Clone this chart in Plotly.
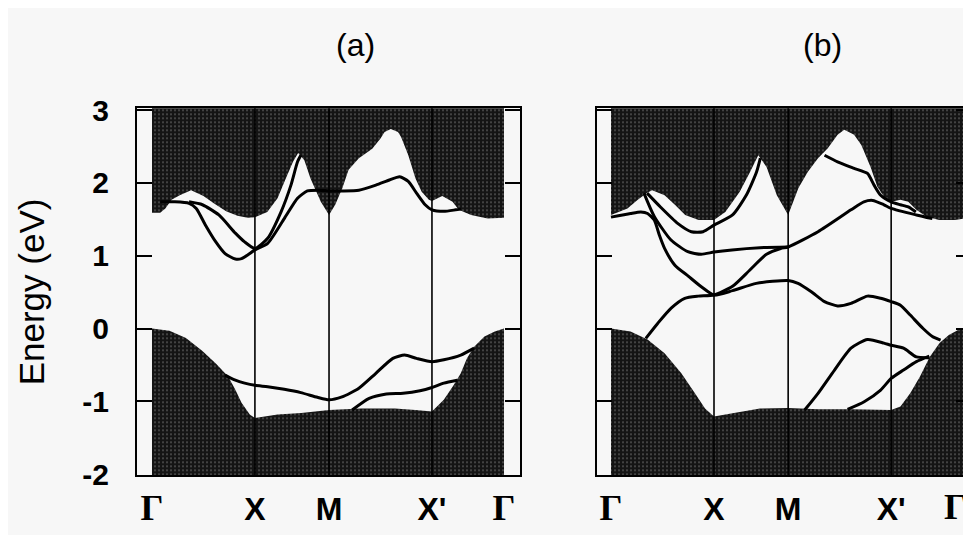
import plotly.graph_objects as go

# ---------------- data ----------------
K_POS = [0.0, 1.0, 1.72, 2.72, 3.42]
K_LABELS = ['Γ', 'X', 'M', "X'", 'Γ']
Y_TICKS = [-2, -1, 0, 1, 2, 3]
Y_TICK_TEXT = ['-2', '-1', '0', '1', '2', '3']
PANEL_TITLES = ['(a)', '(b)']
Y_TITLE = 'Energy (eV)'

# panel (a): lower edge of projected bulk conduction bands
a_cb_x = [0.00, 0.08, 0.13, 0.19, 0.27, 0.38, 0.50, 0.60, 0.72, 0.83, 0.93, 1.00, 1.12, 1.22, 1.30, 1.37,
          1.42, 1.48, 1.54, 1.64, 1.72, 1.78, 1.85, 1.91, 2.01, 2.14, 2.22, 2.26, 2.32, 2.39, 2.42, 2.49,
          2.56, 2.62, 2.69, 2.72, 2.82, 2.92, 2.98, 3.10, 3.26, 3.42]
a_cb_y = [1.59, 1.59, 1.65, 1.77, 1.83, 1.90, 1.82, 1.72, 1.61, 1.55, 1.52, 1.53, 1.60, 1.79, 2.06, 2.29,
          2.41, 2.31, 2.06, 1.74, 1.56, 1.70, 1.93, 2.18, 2.34, 2.47, 2.61, 2.70, 2.74, 2.70, 2.63, 2.38,
          2.06, 1.88, 1.77, 1.75, 1.82, 1.74, 1.63, 1.56, 1.51, 1.52]
# panel (a): upper edge of projected bulk valence bands
a_vb_x = [0.00, 0.17, 0.33, 0.49, 0.62, 0.74, 0.81, 0.87, 0.95, 1.00, 1.22, 1.45, 1.72, 2.03, 2.36, 2.56,
          2.72, 2.835, 2.93, 3.00, 3.06, 3.13, 3.23, 3.33, 3.42]
a_vb_y = [0.00, -0.03, -0.13, -0.31, -0.48, -0.66, -0.84, -1.02, -1.18, -1.23, -1.18, -1.16, -1.12, -1.10,
          -1.10, -1.12, -1.14, -0.98, -0.78, -0.615, -0.41, -0.25, -0.11, -0.04, 0.00]
# panel (a): surface-state bands
a_s1_x = [0.08, 0.22, 0.36, 0.43, 0.52, 0.62, 0.71, 0.81, 0.87, 0.93, 1.00, 1.124, 1.285, 1.414, 1.51,
          1.617, 1.72, 1.846, 2.01, 2.175, 2.307, 2.406, 2.49, 2.57, 2.654, 2.72, 2.835, 2.95, 3.0]
a_s1_y = [1.74, 1.74, 1.72, 1.65, 1.42, 1.19, 1.03, 0.955, 0.96, 1.01, 1.08, 1.17, 1.51, 1.79, 1.89,
          1.90, 1.89, 1.89, 1.90, 1.97, 2.04, 2.085, 2.02, 1.86, 1.70, 1.63, 1.61, 1.63, 1.64]
a_s2_x = [0.36, 0.49, 0.65, 0.81, 0.90, 1.00, 1.124, 1.253, 1.35, 1.414, 1.446]
a_s2_y = [1.74, 1.70, 1.56, 1.31, 1.19, 1.10, 1.24, 1.60, 1.97, 2.29, 2.38]
a_s3_x = [0.71, 0.81, 0.90, 1.00, 1.124, 1.285, 1.446, 1.607, 1.72, 1.846, 2.01, 2.175, 2.34, 2.455,
          2.57, 2.72, 2.835, 3.0, 3.13]
a_s3_y = [-0.64, -0.71, -0.75, -0.78, -0.80, -0.835, -0.88, -0.945, -0.98, -0.94, -0.82, -0.615, -0.41,
          -0.365, -0.41, -0.455, -0.43, -0.365, -0.27]
a_s4_x = [1.945, 2.11, 2.277, 2.44, 2.604, 2.72, 2.835, 2.966]
a_s4_y = [-1.12, -0.96, -0.90, -0.89, -0.855, -0.81, -0.75, -0.71]

# panel (b)
b_cb_x = [0.00, 0.16, 0.26, 0.355, 0.40, 0.52, 0.62, 0.72, 0.85, 1.00, 1.11, 1.25, 1.35, 1.43, 1.51, 1.61,
          1.72, 1.82, 1.91, 2.01, 2.105, 2.20, 2.265, 2.36, 2.43, 2.52, 2.585, 2.65, 2.72, 2.81, 2.886,
          2.965, 3.06, 3.185, 3.34, 3.42]
b_cb_y = [1.56, 1.65, 1.77, 1.87, 1.90, 1.83, 1.70, 1.56, 1.49, 1.49, 1.60, 1.88, 2.15, 2.38, 2.22, 1.83,
          1.56, 1.93, 2.15, 2.34, 2.475, 2.66, 2.73, 2.66, 2.52, 2.22, 1.95, 1.81, 1.74, 1.77, 1.74,
          1.63, 1.54, 1.49, 1.49, 1.51]
b_vb_x = [0.00, 0.19, 0.355, 0.52, 0.683, 0.815, 0.913, 1.00, 1.18, 1.446, 1.72, 2.01, 2.33, 2.72, 2.81,
          2.905, 3.00, 3.094, 3.19, 3.28, 3.37, 3.42]
b_vb_y = [0.00, -0.04, -0.15, -0.34, -0.615, -0.89, -1.10, -1.21, -1.165, -1.10, -1.09, -1.11, -1.11,
          -1.12, -1.07, -0.89, -0.66, -0.39, -0.20, -0.09, -0.02, 0.00]
b_s1_x = [0.0, 0.19, 0.29, 0.355, 0.42, 0.47, 0.52, 0.62, 0.75, 0.88, 1.0, 1.18, 1.41, 1.72, 1.816, 1.945,
          2.073, 2.20, 2.33, 2.49, 2.618, 2.72, 2.81, 2.905, 3.03, 3.12, 3.20]
b_s1_y = [1.53, 1.58, 1.60, 1.58, 1.49, 1.28, 1.10, 0.87, 0.72, 0.57, 0.46, 0.52, 0.62, 0.66, 0.62, 0.505,
          0.37, 0.31, 0.345, 0.445, 0.415, 0.37, 0.32, 0.185, 0.0, -0.11, -0.16]
b_s2_x = [0.338, 0.453, 0.584, 0.716, 0.847, 1.0, 1.18, 1.346, 1.51, 1.647, 1.72, 2.01, 2.33, 2.455, 2.54,
          2.65, 2.72, 2.965, 3.12]
b_s2_y = [-0.135, 0.07, 0.28, 0.415, 0.445, 0.46, 0.58, 0.80, 1.02, 1.10, 1.12, 1.33, 1.63, 1.74, 1.76,
          1.70, 1.65, 1.56, 1.51]
b_s3_x = [0.32, 0.42, 0.58, 0.746, 0.876, 1.0, 1.175, 1.446, 1.72]
b_s3_y = [1.86, 1.54, 1.22, 1.055, 1.02, 1.05, 1.08, 1.11, 1.12]
b_s4_x = [0.35, 0.48, 0.647, 0.78, 0.894, 1.0, 1.18, 1.313, 1.413, 1.45]
b_s4_y = [1.86, 1.67, 1.445, 1.33, 1.33, 1.42, 1.56, 1.83, 2.15, 2.34]
b_s5_x = [2.073, 2.20, 2.36, 2.49, 2.554, 2.618, 2.72, 2.81, 2.886, 2.96]
b_s5_y = [2.38, 2.29, 2.20, 2.13, 1.97, 1.83, 1.74, 1.70, 1.67, 1.60]
b_s6_x = [1.88, 2.01, 2.17, 2.33, 2.49, 2.65, 2.72, 2.84, 2.965, 3.09]
b_s6_y = [-1.12, -0.89, -0.57, -0.27, -0.15, -0.20, -0.23, -0.27, -0.39, -0.40]
b_s7_x = [2.297, 2.458, 2.618, 2.72, 2.84, 2.965, 3.09]
b_s7_y = [-1.11, -1.005, -0.845, -0.685, -0.57, -0.455, -0.38]

# ---------------- styling ----------------
Y_RANGE = [-2.012, 3.025]
FILL_TOP, FILL_BOT = 3.3, -2.3
BG = '#f7f7f7'
SANS = 'Liberation Sans, Arial, sans-serif'
DARK = dict(shape='.', bgcolor='#141414', fgcolor='#8f8f8f', size=4, solidity=0.2)

# page body has an 8px margin: lay the figure out in page pixels minus that offset
OFF = 8
W, H = 971 - OFF, 535 - OFF


def px_x(p):
    return (p - OFF) / W


def px_y(p):
    return (H - (p - OFF)) / H


panels = [
    dict(cb=(a_cb_x, a_cb_y), vb=(a_vb_x, a_vb_y),
         lines=[(a_s1_x, a_s1_y), (a_s2_x, a_s2_y), (a_s3_x, a_s3_y), (a_s4_x, a_s4_y)],
         xa='x', ya='y'),
    dict(cb=(b_cb_x, b_cb_y), vb=(b_vb_x, b_vb_y),
         lines=[(b_s1_x, b_s1_y), (b_s2_x, b_s2_y), (b_s3_x, b_s3_y), (b_s4_x, b_s4_y),
                (b_s5_x, b_s5_y), (b_s6_x, b_s6_y), (b_s7_x, b_s7_y)],
         xa='x2', ya='y2'),
]

fig = go.Figure()
for p in panels:
    cx, cy = p['cb']
    vx, vy = p['vb']
    fig.add_trace(go.Scatter(x=list(cx) + [cx[-1], cx[0]], y=list(cy) + [FILL_TOP, FILL_TOP],
                             fill='toself', mode='none', fillcolor='#141414', fillpattern=DARK,
                             xaxis=p['xa'], yaxis=p['ya'], hoverinfo='skip', showlegend=False))
    fig.add_trace(go.Scatter(x=list(vx) + [vx[-1], vx[0]], y=list(vy) + [FILL_BOT, FILL_BOT],
                             fill='toself', mode='none', fillcolor='#141414', fillpattern=DARK,
                             xaxis=p['xa'], yaxis=p['ya'], hoverinfo='skip', showlegend=False))
    for k in K_POS[1:-1]:
        fig.add_trace(go.Scatter(x=[k, k], y=[FILL_BOT, FILL_TOP], mode='lines',
                                 line=dict(color='black', width=1.6),
                                 xaxis=p['xa'], yaxis=p['ya'], hoverinfo='skip', showlegend=False))
    for lx, ly in p['lines']:
        fig.add_trace(go.Scatter(x=lx, y=ly, mode='lines',
                                 line=dict(color='black', width=3, shape='spline', smoothing=0.6),
                                 xaxis=p['xa'], yaxis=p['ya'], hoverinfo='skip', showlegend=False))

gamma_style = "font-family:Liberation Serif;font-weight:bold;font-size:36px"


def k_label(s):
    return f"<span style='{gamma_style}'>{s}</span>" if s == 'Γ' else s


panel_a_ticktext = [k_label(s) for s in K_LABELS]
# the last label of panel (b) sits at the page edge: drawn as an annotation nudged inwards
panel_b_ticktext = [k_label(s) for s in K_LABELS[:-1]] + ['']

ydom = [px_y(475), px_y(108.3)]
common_x = dict(showline=True, linecolor='black', linewidth=2.2, mirror=True, ticks='',
                tickvals=K_POS, showgrid=False, zeroline=False,
                tickfont=dict(family=SANS, size=32, color='black', weight='bold'),
                ticklabelstandoff=4, ticklabeloverflow='allow', automargin=False)
common_y = dict(range=Y_RANGE, domain=ydom, showline=True, linecolor='black', linewidth=2.2,
                mirror='ticks', ticks='inside', ticklen=15, tickwidth=2, tickcolor='black',
                tickvals=Y_TICKS, ticktext=Y_TICK_TEXT, showgrid=False, zeroline=False,
                automargin=False)

fig.update_layout(
    width=W, height=H, autosize=False,
    margin=dict(l=0, r=0, t=0, b=0, pad=0, autoexpand=False),
    paper_bgcolor=BG, plot_bgcolor=BG,
    xaxis=dict(domain=[px_x(137), px_x(520)], range=[-15 / 103, 3.42 + 16 / 103], anchor='y',
               ticktext=panel_a_ticktext, **common_x),
    yaxis=dict(anchor='x', tickfont=dict(family=SANS, size=30, color='black', weight='bold'),
               ticklabelstandoff=20, **common_y),
    xaxis2=dict(domain=[px_x(597), 1.0], range=[-14 / 103, -14 / 103 + 374 / 103], anchor='y2',
                ticktext=panel_b_ticktext, **common_x),
    yaxis2=dict(anchor='x2', showticklabels=False, **common_y),
    annotations=[
        dict(text=PANEL_TITLES[0], x=px_x(355), y=px_y(45), xref='paper', yref='paper',
             xanchor='center', yanchor='middle',
             showarrow=False, font=dict(family=SANS, size=32, color='black')),
        dict(text=PANEL_TITLES[1], x=px_x(822), y=px_y(45), xref='paper', yref='paper',
             xanchor='center', yanchor='middle',
             showarrow=False, font=dict(family=SANS, size=32, color='black')),
        dict(text=Y_TITLE, x=px_x(31.7), y=sum(ydom) / 2, xref='paper', yref='paper', textangle=-90,
             xanchor='center', yanchor='middle',
             showarrow=False, font=dict(family=SANS, size=35, color='black')),
        dict(text=k_label(K_LABELS[-1]), x=K_POS[-1], xref='x2', y=px_y(507), yref='paper',
             xanchor='center', yanchor='middle', xshift=-8, showarrow=False,
             font=dict(family=SANS, size=32, color='black')),
    ],
)

fig.write_html("out.html")
